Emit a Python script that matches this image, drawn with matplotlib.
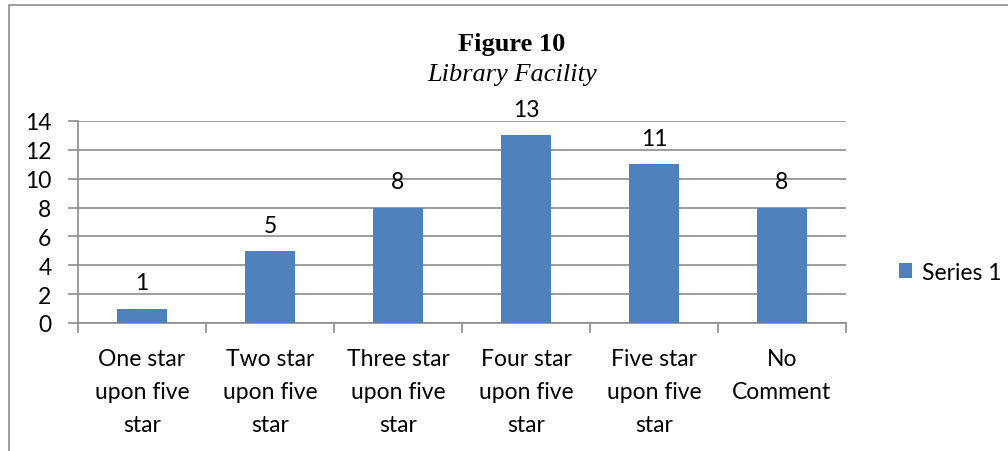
import matplotlib
matplotlib.use("Agg")
import matplotlib.pyplot as plt
from matplotlib.patches import Rectangle

categories = ["One star\nupon five\nstar", "Two star\nupon five\nstar", "Three star\nupon five\nstar",
              "Four star\nupon five\nstar", "Five star\nupon five\nstar", "No\nComment"]
values = [1, 5, 8, 13, 11, 8]
yticks = [0, 2, 4, 6, 8, 10, 12, 14]
series_name = "Series 1"
title = "Figure 10"
subtitle = "Library Facility"

W, H = 1008, 452
fig = plt.figure(figsize=(W / 100, H / 100), dpi=100)
font = "Lato"
fs = 16.5
bar_color = "#4F81BD"
grid_color = "#8C8C8C"

# figure border
fig.patches.append(Rectangle((9 / W, -0.1), 1.2, (H - 6) / H + 0.1, transform=fig.transFigure,
                             fill=False, edgecolor="#8C8C8C", linewidth=1.2))

ax = fig.add_axes([78 / W, (H - 324) / H, (846 - 78) / W, (324 - 122) / H])
x = list(range(len(values)))
bars = ax.bar(x, values, width=0.39, color=bar_color, zorder=3, label=series_name)
ax.set_xlim(-0.5, len(values) - 0.5)
ax.set_ylim(0, 14)
ax.set_yticks(yticks)
ax.set_yticklabels([str(t) for t in yticks], fontname=font, fontsize=fs)
ax.yaxis.grid(True, color=grid_color, linewidth=1.2, zorder=0)
ax.set_axisbelow(True)
ax.set_xticks([i - 0.5 for i in range(len(values) + 1)])
ax.set_xticklabels([])
ax.set_xticks(x, minor=True)
ax.set_xticklabels(categories, minor=True, fontname=font, fontsize=fs, linespacing=1.72)
ax.tick_params(axis="x", which="minor", length=0, pad=18)
ax.tick_params(axis="x", which="major", length=7, color=grid_color, width=1.2)
ax.tick_params(axis="y", length=7, color=grid_color, width=1.2, pad=12)
for s in ["top", "right"]:
    ax.spines[s].set_visible(False)
for s in ["left", "bottom"]:
    ax.spines[s].set_color(grid_color)
    ax.spines[s].set_linewidth(1.2)

for b, v in zip(bars, values):
    ax.annotate(str(v), (b.get_x() + b.get_width() / 2, v), xytext=(0, 11), textcoords="offset points",
                ha="center", va="bottom", fontname=font, fontsize=fs)

fig.text(512 / W, 1 - 45 / H, title, ha="center", va="center", fontname="Liberation Serif",
         fontweight="bold", fontsize=19)
fig.text(512 / W, 1 - 75 / H, subtitle, ha="center", va="center", fontname="Liberation Serif",
         style="italic", fontsize=19)

leg = fig.legend(handles=[bars], labels=[series_name], loc="center left",
                 bbox_to_anchor=(878 / W, 1 - 273 / H), frameon=False,
                 prop={"family": font, "size": fs}, handlelength=0.6, handleheight=0.6,
                 handletextpad=0.4)

fig.savefig("out.png", dpi=100)
